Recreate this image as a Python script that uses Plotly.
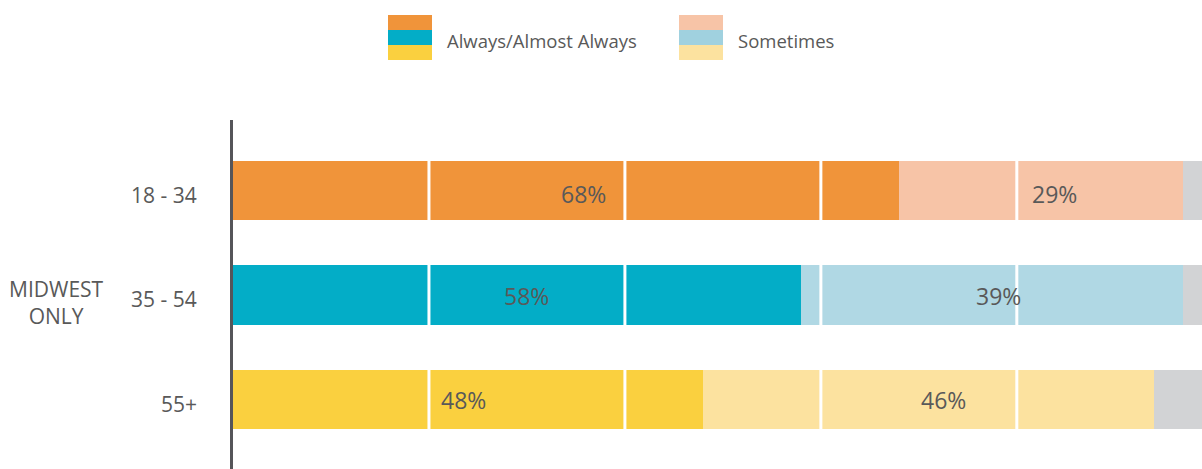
import plotly.graph_objects as go

# Age groups (top to bottom) and response shares in percent
age_groups = ["18 - 34", "35 - 54", "55+"]
always = [68, 58, 48]
sometimes = [29, 39, 46]
rest = [3, 3, 6]

always_colors = ["#F0943A", "#03ADC7", "#FAD03F"]
sometimes_colors = ["#F7C4A7", "#B0D8E4", "#FCE29F"]
legend_sometimes_colors = ["#F7C4A7", "#A0D1DF", "#FCE29F"]
rest_color = "#D2D3D5"
text_color = "#595959"
font_family = "Open Sans, Lato, sans-serif"

ypos = list(range(len(age_groups)))

W, H = 1202, 469
L, T = 233, 120
pw, ph = W - L, H - T


def px_to_paper_x(px):
    return (px - L) / pw


def px_to_paper_y(py):
    return 1 - (py - T) / ph


fig = go.Figure()
for vals, cols in [(always, always_colors), (sometimes, sometimes_colors), (rest, rest_color)]:
    fig.add_trace(go.Bar(y=ypos, x=vals, orientation="h", width=0.57,
                         marker=dict(color=cols, line=dict(width=0)),
                         hoverinfo="skip"))

label_font = dict(size=23, color=text_color, family=font_family)

# value labels on the two main segments
shift_always = [17, 9, -5]
shift_sometimes = [13, 6, 15]
lift = [-3, -1, 0]
annotations = []
for i in ypos:
    annotations.append(dict(x=always[i] / 2, y=i, xref="x", yref="y",
                            text=f"{always[i]}%", showarrow=False,
                            xshift=shift_always[i], yshift=lift[i], font=label_font))
    annotations.append(dict(x=always[i] + sometimes[i] / 2, y=i, xref="x", yref="y",
                            text=f"{sometimes[i]}%", showarrow=False,
                            xshift=shift_sometimes[i], yshift=lift[i], font=label_font))

# category labels left of the axis
for i, name in enumerate(age_groups):
    annotations.append(dict(x=px_to_paper_x(199), y=i, xref="paper", yref="y",
                            xanchor="right", yshift=-4, text=name, showarrow=False,
                            font=dict(size=21, color=text_color, family=font_family)))

# group label
annotations.append(dict(x=px_to_paper_x(56), y=1, xref="paper", yref="y", xanchor="center",
                        yshift=-7, text="MIDWEST<br>ONLY", showarrow=False, align="center",
                        font=dict(size=21, color=text_color, family=font_family)))

# legend text
legend_font = dict(size=18.5, color=text_color, family=font_family)
annotations.append(dict(x=px_to_paper_x(445), y=px_to_paper_y(40), xref="paper", yref="paper",
                        text="Always/Almost Always", showarrow=False,
                        xanchor="left", yanchor="middle", font=legend_font))
annotations.append(dict(x=px_to_paper_x(736), y=px_to_paper_y(40), xref="paper", yref="paper",
                        text="Sometimes", showarrow=False,
                        xanchor="left", yanchor="middle", font=legend_font))

shapes = []
# white vertical grid lines drawn over the bars
for gx in [20, 40, 60, 80]:
    shapes.append(dict(type="line", xref="x", yref="paper", x0=gx, x1=gx, y0=0, y1=1,
                       line=dict(color="white", width=3), layer="above"))

# legend swatches: three stripes per entry
for left, cols in [(388, always_colors), (679, legend_sometimes_colors)]:
    for k, c in enumerate(cols):
        shapes.append(dict(type="rect", xref="paper", yref="paper",
                           x0=px_to_paper_x(left), x1=px_to_paper_x(left + 44),
                           y0=px_to_paper_y(15 + 15 * (k + 1)), y1=px_to_paper_y(15 + 15 * k),
                           fillcolor=c, line=dict(width=0), layer="above"))

fig.update_layout(
    width=W, height=H,
    margin=dict(l=L, r=0, t=T, b=0),
    barmode="stack",
    showlegend=False,
    paper_bgcolor="white", plot_bgcolor="white",
    annotations=annotations,
    shapes=shapes,
    font=dict(family=font_family, color=text_color),
)
fig.update_xaxes(range=[0, 98.9], showgrid=False, zeroline=False,
                 showticklabels=False, fixedrange=True)
fig.update_yaxes(range=[2.665, -0.675], tickvals=ypos, showticklabels=False,
                 showgrid=False, zeroline=False, showline=True, linecolor="#555559",
                 linewidth=3, ticks="")

fig.write_html("out.html")
